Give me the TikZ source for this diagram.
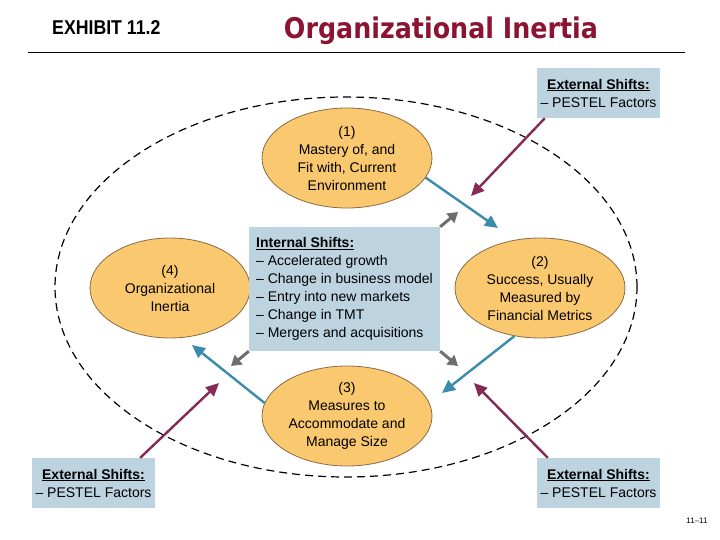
\documentclass[tikz,border=0pt]{standalone}
\usepackage{fontspec}
\setmainfont{Liberation Sans}
\newfontfamily\exhibitfont[FakeStretch=0.885]{Liberation Sans}
\newfontfamily\headfont[FakeStretch=0.89]{DejaVu Sans}
\usetikzlibrary{shapes.geometric,arrows.meta}
\definecolor{orangefill}{HTML}{FAC96F}
\definecolor{orangeedge}{HTML}{8A6A45}
\definecolor{boxfill}{HTML}{BDD4E0}
\definecolor{bluearrow}{HTML}{3B8CAA}
\definecolor{purplearrow}{HTML}{842A55}
\definecolor{grayarrow}{HTML}{6E6E6E}
\definecolor{titlered}{HTML}{8C1433}
\begin{document}
\begin{tikzpicture}[x=1pt,y=-1pt,
  stage/.style={ellipse,draw=orangeedge,line width=0.8pt,fill=orangefill,minimum width=170pt,minimum height=100pt,inner sep=0pt,align=center,font=\fontsize{14}{18}\selectfont},
  shiftbox/.style={rectangle,fill=boxfill,inner sep=0pt,font=\fontsize{14}{18}\selectfont},
  flow/.style={draw=bluearrow,line width=2.4pt,-{Triangle[length=13pt,width=12pt]}},
  extarrow/.style={draw=purplearrow,line width=2.4pt,-{Triangle[length=13pt,width=12pt]}},
  intarrow/.style={draw=grayarrow,line width=3pt,-{Triangle[length=10pt,width=12pt]}},
  cycleline/.style={ellipse,draw=black,line width=1.2pt,dash pattern=on 8pt off 5pt,minimum width=582pt,minimum height=380pt,inner sep=0pt}
]
\useasboundingbox (0,0) rectangle (720,540);
% header
\node[font=\exhibitfont\fontsize{20}{22}\selectfont\bfseries,inner sep=0pt,anchor=base west] (exhibit) at (52,34.3) {EXHIBIT 11.2};
\node[font=\headfont\fontsize{28.5}{32}\selectfont\bfseries,text=titlered,inner sep=0pt,anchor=base] (title) at (441,38.3) {Organizational Inertia};
\coordinate (ruleL) at (28,53);
\coordinate (ruleR) at (685,53);
\draw[line width=1pt] (ruleL) -- (ruleR);
% big dashed cycle
\node[cycleline] (cycle) at (346,287) {};
% stages
\node[stage] (s1) at (347,158) {(1)\\Mastery of, and\\Fit with, Current\\Environment};
\node[stage] (s2) at (540,288) {(2)\\Success, Usually\\Measured by\\Financial Metrics};
\node[stage] (s3) at (347,416) {(3)\\Measures to\\Accommodate and\\Manage Size};
\node[stage,minimum width=160pt] (s4) at (170,288) {(4)\\Organizational\\Inertia};
% internal shifts box
\node[shiftbox,minimum width=191pt,minimum height=124pt,align=left] (internal) at (344.5,289)
  {\underline{\textbf{Internal Shifts:}}\\– Accelerated growth\\– Change in business model\\– Entry into new markets\\– Change in TMT\\– Mergers and acquisitions};
% external shifts boxes
\node[shiftbox,minimum width=123pt,minimum height=50pt,align=center] (ext1) at (598.5,93) {\underline{\textbf{External Shifts:}}\\– PESTEL Factors};
\node[shiftbox,minimum width=123pt,minimum height=50pt,align=center] (ext2) at (93.5,483) {\underline{\textbf{External Shifts:}}\\– PESTEL Factors};
\node[shiftbox,minimum width=123pt,minimum height=50pt,align=center] (ext3) at (598.5,483) {\underline{\textbf{External Shifts:}}\\– PESTEL Factors};
% blue flow arrows
\coordinate (t12) at (498,228);
\coordinate (t23) at (442,393);
\coordinate (t34) at (192,345);
\draw[flow] (s1.-14) -- (t12);
\draw[flow] (s2.-118) -- (t23);
\draw[flow] (s3.171) -- (t34);
% purple external arrows
\coordinate (p1) at (471,196);
\coordinate (p2) at (219,383);
\coordinate (p3) at (474,383);
\draw[extarrow] ([xshift=8pt]ext1.south west) -- (p1);
\draw[extarrow] ([xshift=-15pt]ext2.north east) -- (p2);
\draw[extarrow] ([xshift=11pt]ext3.north west) -- (p3);
% gray internal arrows
\coordinate (g1) at (458,212);
\coordinate (g2) at (231,366);
\coordinate (g3) at (458,366);
\draw[intarrow] (internal.north east) -- (g1);
\draw[intarrow] (internal.south west) -- (g2);
\draw[intarrow] (internal.south east) -- (g3);
% page number
\node[font=\fontsize{8}{9}\selectfont] (pageno) at (697,521) {11–11};
\end{tikzpicture}
\end{document}
